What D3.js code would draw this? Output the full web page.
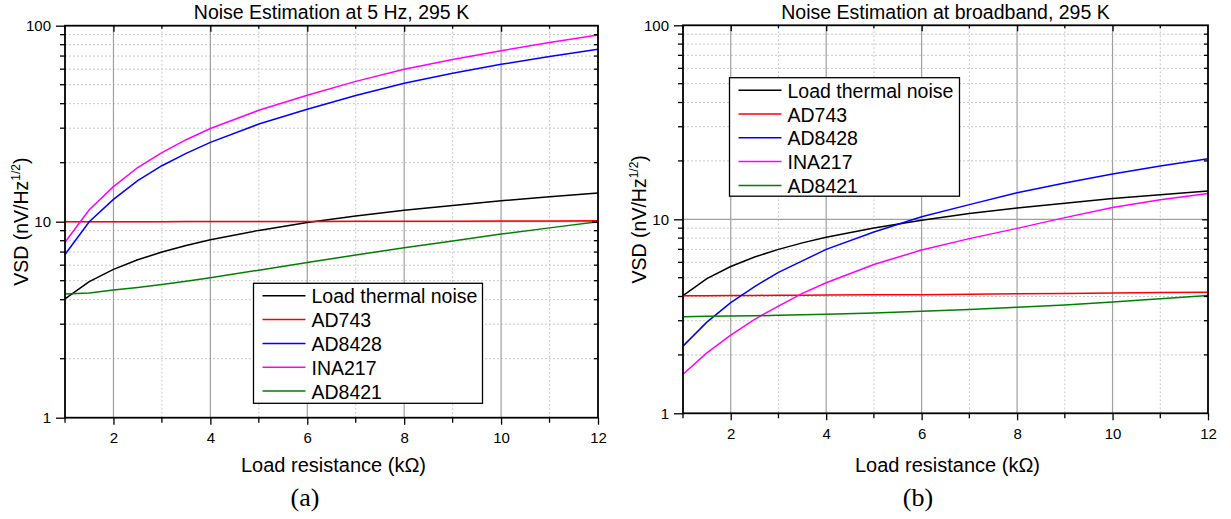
<!DOCTYPE html>
<html><head><meta charset="utf-8">
<script src="https://cdn.jsdelivr.net/npm/d3@7"></script>
<style>
body{margin:0;background:#fff;}
svg text{font-family:"Liberation Sans",Arial,sans-serif;fill:#000;}
</style></head>
<body><svg id="c" width="1231" height="519"></svg>
<script>
// ---- data ----
const resistance = [1,1.5,2,2.5,3,3.5,4,5,6,7,8,9,10,11,12];
const seriesNames = ["Load thermal noise","AD743","AD8428","INA217","AD8421"];
const seriesColors = ["#000000","#ff0000","#0000ff","#ff00ff","#008000"];
const thermal = [4.04,4.95,5.71,6.39,7.0,7.56,8.08,9.03,9.9,10.7,11.45,12.1,12.8,13.4,14.0];
// panel (a): 5 Hz
const ad743_a  = [10.0,10.0,10.0,10.0,10.0,10.01,10.01,10.02,10.03,10.04,10.05,10.06,10.08,10.09,10.1];
const ad8428_a = [6.8,10.0,13.0,16.2,19.3,22.3,25.4,31.5,37.5,44.0,50.8,57.2,63.5,69.7,75.8];
const ina217_a = [7.85,11.5,15.1,18.9,22.5,26.2,29.9,37.0,44.2,52.0,59.9,67.3,74.5,82.0,89.7];
const ad8421_a = [4.28,4.33,4.48,4.62,4.78,4.97,5.18,5.66,6.2,6.77,7.36,7.98,8.65,9.3,10.0];
// panel (b): broadband
const ad743_b  = [4.04,4.04,4.05,4.05,4.06,4.06,4.07,4.08,4.09,4.11,4.13,4.15,4.17,4.19,4.21];
const ad8428_b = [2.22,2.95,3.72,4.5,5.33,6.1,7.0,8.6,10.3,11.9,13.7,15.4,17.1,18.8,20.5];
const ina217_b = [1.59,2.05,2.53,3.05,3.57,4.15,4.71,5.85,6.95,7.95,8.98,10.2,11.5,12.6,13.6];
const ad8421_b = [3.15,3.16,3.17,3.18,3.2,3.22,3.24,3.29,3.36,3.43,3.52,3.62,3.75,3.9,4.05];
const xTicks = [2,4,6,8,10,12];
const yTickLabels = ["1","10","100"];
const titles = ["Noise Estimation at 5 Hz, 295 K","Noise Estimation at broadband, 295 K"];
const captions = ["(a)","(b)"];
const xLabel = "Load resistance (kΩ)";

const svg = d3.select("#c");

function panel(cfg){
  const g = svg.append("g");
  const x = d3.scaleLinear().domain([1,12]).range([cfg.x0,cfg.x1]);
  const y = d3.scaleLog().domain([1,100]).range([cfg.y0,cfg.y1]);
  const minorX = d3.range(1,13).filter(v=>v%2===1);
  const majorX = xTicks.filter(v=>v<12);
  const minorY = [];
  [1,10].forEach(d=>{for(let k=2;k<=9;k++)minorY.push(d*k);});
  // grid
  g.selectAll(".gmx").data(minorX.filter(v=>v>1)).enter().append("line")
    .attr("x1",d=>x(d)).attr("x2",d=>x(d)).attr("y1",cfg.y0).attr("y2",cfg.y1)
    .attr("stroke","#c8c8c8").attr("stroke-width",1).attr("stroke-dasharray","2,2");
  g.selectAll(".gmy").data(minorY).enter().append("line")
    .attr("x1",cfg.x0).attr("x2",cfg.x1).attr("y1",d=>y(d)).attr("y2",d=>y(d))
    .attr("stroke","#c8c8c8").attr("stroke-width",1).attr("stroke-dasharray","2,2");
  g.selectAll(".gMx").data(majorX).enter().append("line")
    .attr("x1",d=>x(d)).attr("x2",d=>x(d)).attr("y1",cfg.y0).attr("y2",cfg.y1)
    .attr("stroke","#a0a0a0").attr("stroke-width",1.2);
  g.append("line").attr("x1",cfg.x0).attr("x2",cfg.x1).attr("y1",y(10)).attr("y2",y(10))
    .attr("stroke","#a0a0a0").attr("stroke-width",1.2);

  // curves
  const line = d3.line().x((d,i)=>x(resistance[i])).y(d=>y(d));
  cfg.series.forEach((s,i)=>{
    g.append("path").datum(s).attr("d",line).attr("fill","none")
      .attr("stroke",seriesColors[i]).attr("stroke-width",1.5);
  });

  // axes
  const bottom = g.append("g").attr("transform",`translate(0,${cfg.y0})`)
    .call(d3.axisBottom(x).tickValues(xTicks).tickSize(7).tickSizeOuter(0).tickPadding(8));
  bottom.append("g").selectAll("line").data(minorX).enter().append("line")
    .attr("x1",d=>x(d)).attr("x2",d=>x(d)).attr("y1",0).attr("y2",5).attr("stroke","#000");
  const left = g.append("g").attr("transform",`translate(${cfg.x0},0)`)
    .call(d3.axisLeft(y).tickValues([1,10,100]).tickFormat((d,i)=>yTickLabels[i]).tickSize(9).tickSizeOuter(0).tickPadding(5));
  left.append("g").selectAll("line").data(minorY).enter().append("line")
    .attr("x1",0).attr("x2",-5).attr("y1",d=>y(d)).attr("y2",d=>y(d)).attr("stroke","#000");
  const top = g.append("g").attr("transform",`translate(0,${cfg.y1})`)
    .call(d3.axisBottom(x).tickValues(majorX).tickSize(6).tickSizeOuter(0).tickFormat(""));
  top.append("g").selectAll("line").data(minorX).enter().append("line")
    .attr("x1",d=>x(d)).attr("x2",d=>x(d)).attr("y1",0).attr("y2",3).attr("stroke","#000");
  const right = g.append("g").attr("transform",`translate(${cfg.x1},0)`)
    .call(d3.axisRight(y).tickValues([10]).tickSize(-6).tickSizeOuter(0).tickFormat(""));
  right.append("g").selectAll("line").data(minorY).enter().append("line")
    .attr("x1",0).attr("x2",-4).attr("y1",d=>y(d)).attr("y2",d=>y(d)).attr("stroke","#000");
  [bottom,left,top,right].forEach(a=>{
    a.select(".domain").remove();
    a.selectAll("line").attr("stroke","#000").attr("stroke-width",1.3);
    a.selectAll("text").style("font-size","15px").attr("fill","#000");
  });
  g.append("rect").attr("x",cfg.x0).attr("y",cfg.y1).attr("width",cfg.x1-cfg.x0).attr("height",cfg.y0-cfg.y1)
    .attr("fill","none").attr("stroke","#000").attr("stroke-width",1.8);

  // titles
  const cx = (cfg.x0+cfg.x1)/2;
  g.append("text").attr("x",cx).attr("y",19).attr("text-anchor","middle").style("font-size","19.5px").text(cfg.title);
  g.append("text").attr("x",cx+2).attr("y",472).attr("text-anchor","middle").style("font-size","20px").text(xLabel);
  const yl = g.append("text").attr("transform",`translate(${cfg.x0-37},${(cfg.y0+cfg.y1)/2}) rotate(-90)`)
    .attr("text-anchor","middle").style("font-size","19.5px");
  yl.append("tspan").text("VSD (nV/Hz");
  yl.append("tspan").attr("dy",-8).style("font-size","12px").text("1/2");
  yl.append("tspan").attr("dy",8).text(")");
  g.append("text").attr("x",cfg.capX).attr("y",506).attr("text-anchor","middle")
    .style("font-family","'Liberation Serif','DejaVu Serif',serif").style("font-size","26px").text(cfg.caption);

  // legend
  const L = cfg.legend;
  g.append("rect").attr("x",L.x).attr("y",L.y).attr("width",L.w).attr("height",L.h)
    .attr("fill","#fff").attr("stroke","#000").attr("stroke-width",1.3);
  seriesNames.forEach((n,i)=>{
    const yy = L.y+12.5+i*L.dy;
    g.append("line").attr("x1",L.x+9).attr("x2",L.x+52).attr("y1",yy).attr("y2",yy)
      .attr("stroke",seriesColors[i]).attr("stroke-width",1.5);
    g.append("text").attr("x",L.x+58).attr("y",yy+7.5).style("font-size","19.5px").text(n);
  });
}

panel({x0:65,x1:598,y0:417.7,y1:25.7,title:titles[0],caption:captions[0],capX:305,
  series:[thermal,ad743_a,ad8428_a,ina217_a,ad8421_a],
  legend:{x:253.5,y:283.3,w:229,h:120,dy:23.8}});
panel({x0:683,x1:1208,y0:413.3,y1:25.3,title:titles[1],caption:captions[1],capX:918,
  series:[thermal,ad743_b,ad8428_b,ina217_b,ad8421_b],
  legend:{x:729.5,y:77.7,w:230,h:118.5,dy:23.8}});
</script></body></html>
